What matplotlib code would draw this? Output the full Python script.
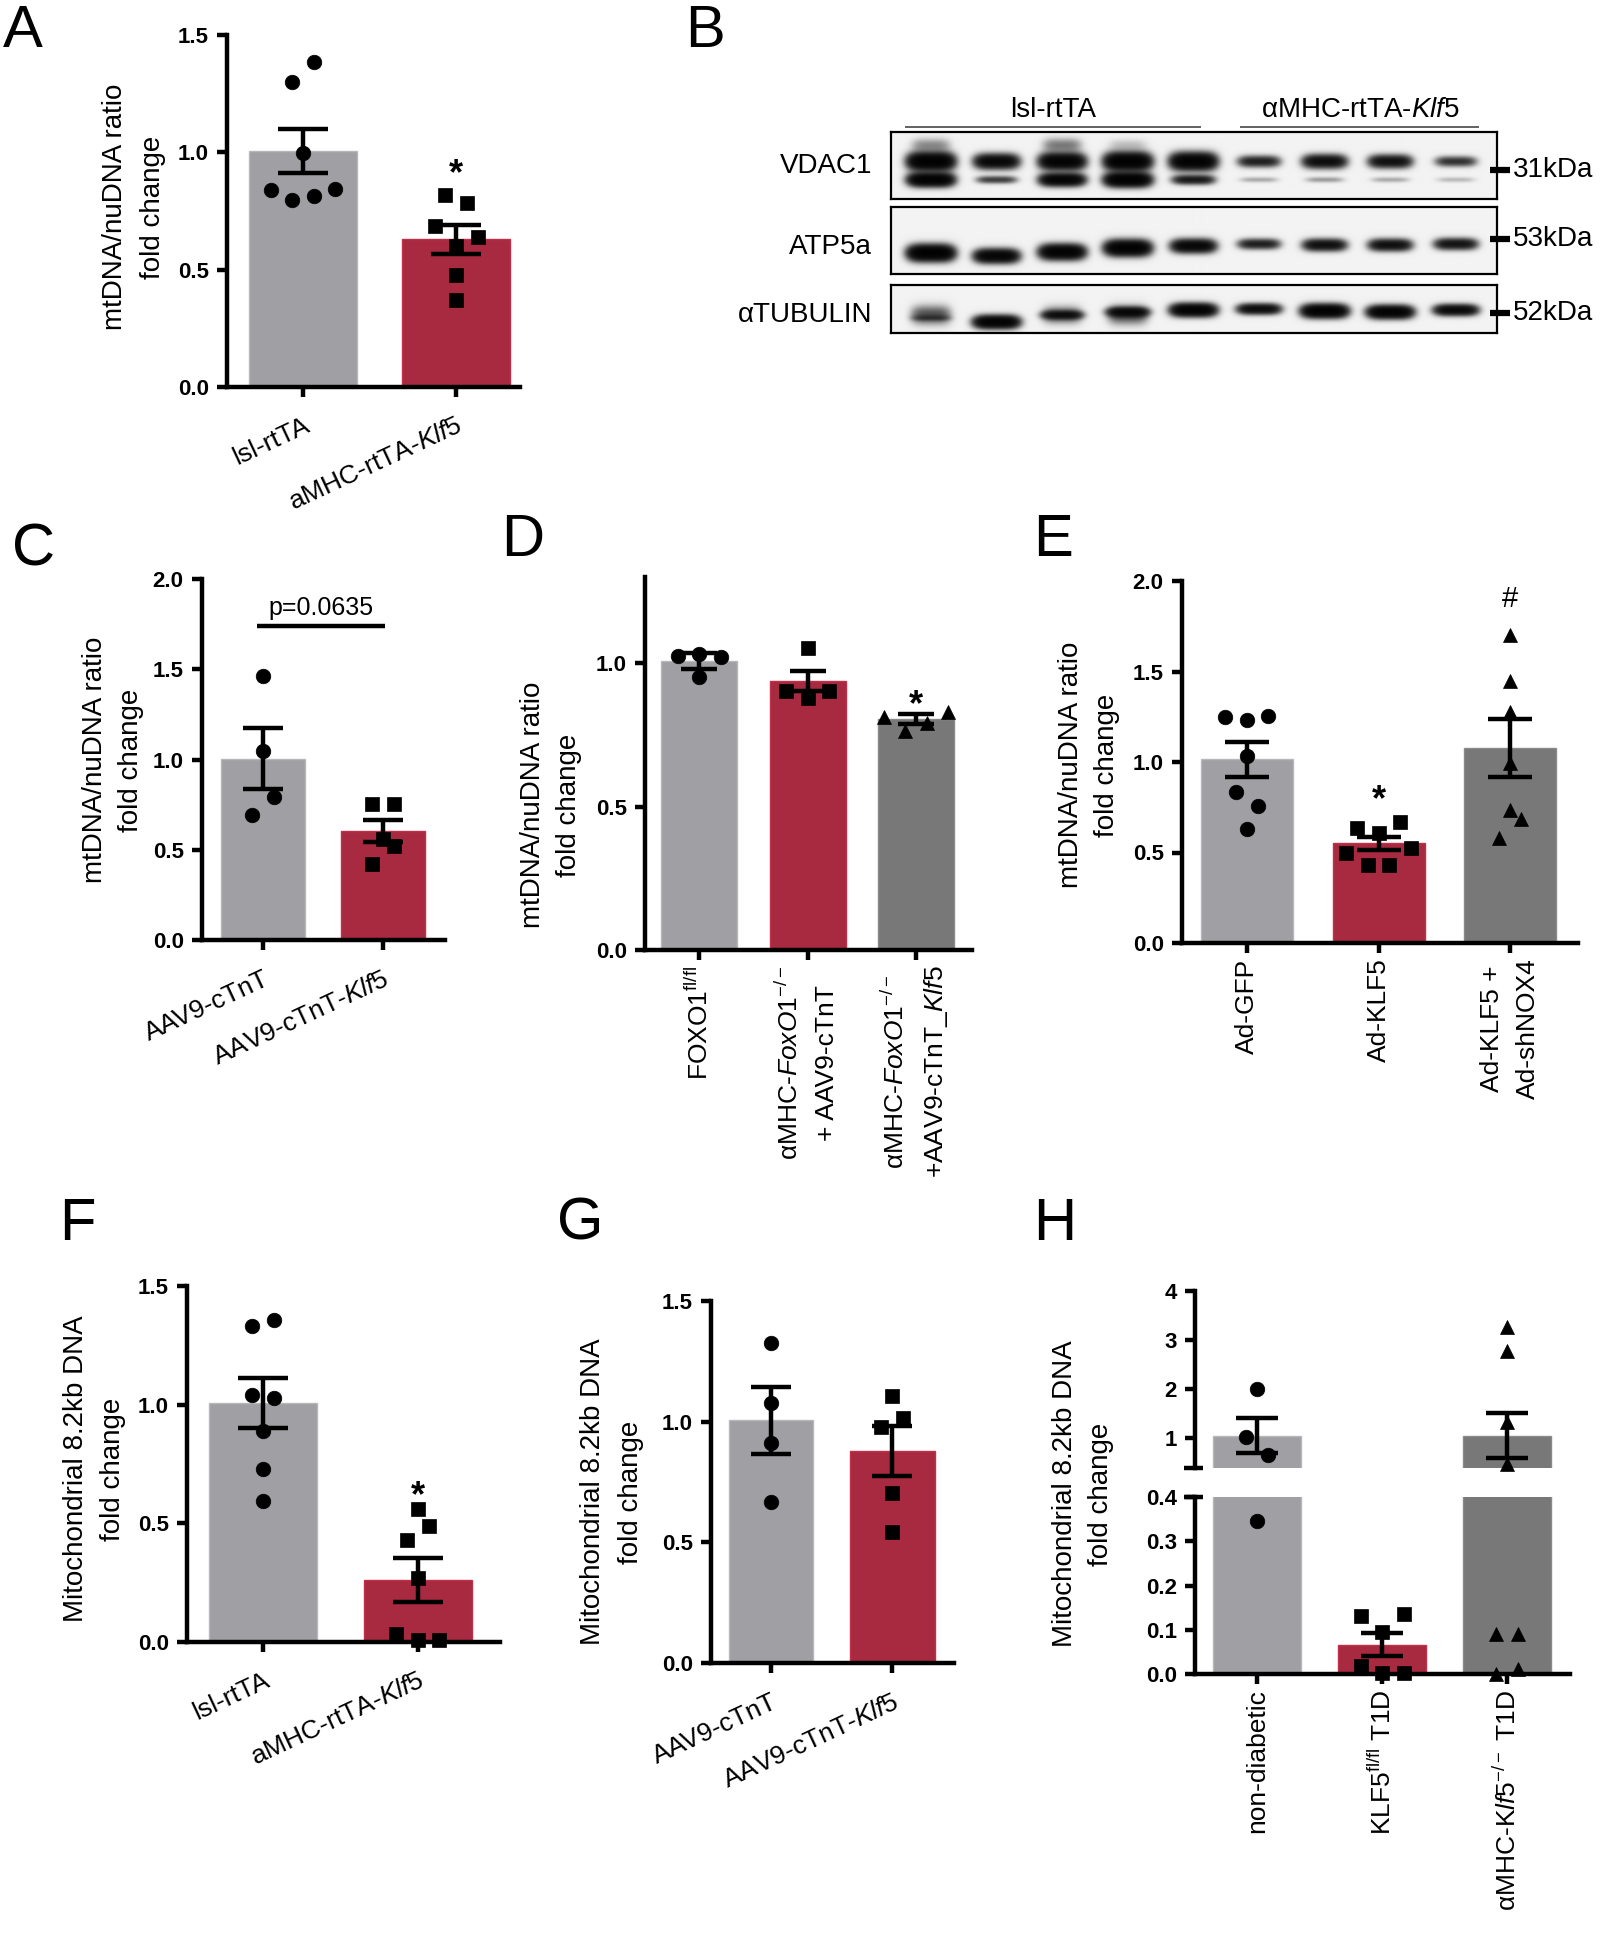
import numpy as np
import matplotlib
matplotlib.use("Agg")
import matplotlib.pyplot as plt
from matplotlib.lines import Line2D

plt.rcParams['font.family'] = ['Liberation Sans', 'DejaVu Sans']
plt.rcParams['mathtext.fontset'] = 'custom'
plt.rcParams['mathtext.rm'] = 'Liberation Sans'
plt.rcParams['mathtext.it'] = 'Liberation Sans:italic'
plt.rcParams['mathtext.bf'] = 'Liberation Sans:bold'

# ---------------- data ----------------
# A  mtDNA/nuDNA, lsl-rtTA vs aMHC-rtTA-Klf5
a_labels = ["lsl-rtTA", r"aMHC-rtTA-$\mathit{Klf5}$"]
a_mean = [1.006, 0.630]
a_sem = [0.092, 0.062]
a_ctrl = [1.301, 1.384, 0.996, 0.840, 0.797, 0.812, 0.844]
a_klf5 = [0.819, 0.783, 0.687, 0.602, 0.641, 0.478, 0.372]
a_sig = ["", "*"]
a_sig_y = [0, 0.95]

# B  western blot (relative band darkness, 9 lanes)
b_groups = ["lsl-rtTA", r"αMHC-rtTA-$\mathit{Klf5}$"]
b_rows = ["VDAC1", "ATP5a", "αTUBULIN"]
b_kda = ["31kDa", "53kDa", "52kDa"]
vdac1_upper = [1.0, 0.75, 0.9, 1.0, 0.95, 0.45, 0.65, 0.6, 0.35]
vdac1_lower = [0.95, 0.3, 0.85, 1.0, 0.5, 0.08, 0.1, 0.08, 0.06]
vdac1_smear = [0.12, 0.0, 0.15, 0.05, 0.0, 0.0, 0.0, 0.0, 0.0]
atp5a_band = [1.0, 0.8, 0.9, 0.95, 0.75, 0.45, 0.6, 0.6, 0.55]
tubulin_band = [0.15, 0.9, 0.45, 0.55, 0.9, 0.65, 0.95, 0.9, 0.7]
tubulin_smear = [0.25, 0.0, 0.2, 0.25, 0.0, 0.0, 0.0, 0.0, 0.0]

# C  mtDNA/nuDNA, AAV9
c_labels = ["AAV9-cTnT", r"AAV9-cTnT-$\mathit{Klf5}$"]
c_mean = [1.005, 0.605]
c_sem = [0.168, 0.062]
c_ctrl = [1.462, 1.047, 0.695, 0.793]
c_klf5 = [0.753, 0.753, 0.558, 0.421, 0.519]
c_p_text = "p=0.0635"
c_p_y = 1.74

# D  mtDNA/nuDNA, FoxO1 knockout
d_labels = [r"FOXO1$^{\mathrm{fl/fl}}$",
            "αMHC-$\\mathit{FoxO1}^{-/-}$\n+ AAV9-cTnT",
            "αMHC-$\\mathit{FoxO1}^{-/-}$\n+AAV9-cTnT_$\\mathit{Klf5}$"]
d_mean = [1.008, 0.937, 0.804]
d_sem = [0.028, 0.035, 0.017]
d_g1 = [1.025, 1.030, 1.022, 0.950]
d_g2 = [0.902, 0.877, 0.902, 1.052]
d_g3 = [0.812, 0.763, 0.791, 0.828]
d_sig = ["", "", "*"]
d_sig_y = [0, 0, 0.886]

# E  mtDNA/nuDNA, adenovirus
e_labels = ["Ad-GFP", "Ad-KLF5", "Ad-KLF5 +\nAd-shNOX4"]
e_mean = [1.014, 0.550, 1.079]
e_sem = [0.097, 0.038, 0.161]
e_g1 = [1.249, 1.234, 1.256, 1.033, 0.835, 0.759, 0.630]
e_g2 = [0.634, 0.609, 0.667, 0.500, 0.431, 0.431, 0.526]
e_g3 = [1.704, 1.450, 1.278, 0.993, 0.734, 0.578, 0.685]
e_sig = ["", "*", "#"]
e_sig_y = [0, 0.846, 1.914]

# F  mitochondrial 8.2kb DNA, lsl-rtTA vs aMHC-rtTA-Klf5
f_labels = a_labels
f_mean = [1.008, 0.263]
f_sem = [0.106, 0.093]
f_ctrl = [1.332, 1.358, 1.042, 1.027, 0.887, 0.730, 0.594]
f_klf5 = [0.562, 0.428, 0.489, 0.270, 0.032, 0.007, 0.007]
f_sig = ["", "*"]
f_sig_y = [0, 0.657]

# G  mitochondrial 8.2kb DNA, AAV9
g_labels = c_labels
g_mean = [1.005, 0.878]
g_sem = [0.139, 0.104]
g_ctrl = [1.326, 1.077, 0.912, 0.667]
g_klf5 = [1.108, 0.979, 1.015, 0.703, 0.541]

# H  mitochondrial 8.2kb DNA, T1D (broken axis)
h_labels = ["non-diabetic", r"KLF5$^{\mathrm{fl/fl}}$ T1D",
            r"αMHC-K$\mathit{lf5}^{-/-}$ T1D"]
h_mean = [1.06, 0.066, 1.06]
h_sem = [0.355, 0.026, 0.457]
h_g1 = [2.007, 1.040, 0.674, 0.345]
h_g2 = [0.1315, 0.095, 0.135, 0.019, 0.002, 0.002]
h_g3 = [3.26, 2.78, 1.336, 0.477, 0.091, 0.091, 0.0, 0.011]

# ---------------- style ----------------
W, H = 1614, 1950
GRAY, RED, DARK = '#a0a0a4', '#a82a40', '#787878'
EDGE = {GRAY: '#b8b8bc', RED: '#c03048', DARK: '#8a8a8a'}
LW = 3.2
BAR_W = 0.70
TICK_FS = 16
LABEL_FS = 20
XT_FS = 19
MS = {'o': 10.5, 's': 9.5, '^': 10.5}
MTNU = "mtDNA/nuDNA ratio\nfold change"
MITO = "Mitochondrial 8.2kb DNA\nfold change"

fig = plt.figure(figsize=(W / 100, H / 100), dpi=100)


def add_ax(box):
    l, t, r, b = box
    return fig.add_axes([l / W, 1 - b / H, (r - l) / W, (b - t) / H])


def fig_line(x0, x1, y0, y1, lw=LW, color='black'):
    fig.add_artist(Line2D([x0 / W, x1 / W], [1 - y0 / H, 1 - y1 / H],
                          lw=lw, color=color, solid_capstyle='butt'))


def swarm_offsets(vals, ppy, row_px=20.5, step_px=21.5):
    """Prism-like layout: points within one row are spread symmetrically."""
    order = sorted(range(len(vals)), key=lambda i: vals[i])
    rows, cur = [], [order[0]]
    for i in order[1:]:
        if (vals[i] - vals[cur[0]]) * ppy < row_px:
            cur.append(i)
        else:
            rows.append(cur)
            cur = [i]
    rows.append(cur)
    off = np.zeros(len(vals))
    for r in rows:
        r = sorted(r)
        for k, i in enumerate(r):
            off[i] = (k - (len(r) - 1) / 2) * step_px
    return off


def style_axes(ax, yticks, ytl, bottom=True):
    ax.spines['top'].set_visible(False)
    ax.spines['right'].set_visible(False)
    ax.spines['left'].set_linewidth(LW)
    ax.spines['bottom'].set_linewidth(LW)
    if not bottom:
        ax.spines['bottom'].set_visible(False)
        ax.tick_params(axis='x', bottom=False, labelbottom=False)
    ax.tick_params(width=LW, length=7.2, direction='out')
    ax.tick_params(axis='y', pad=6)
    ax.set_yticks(yticks)
    ax.set_yticklabels(ytl, fontweight='bold', fontsize=TICK_FS)


def draw_bars(ax, box, xlim, ylim, means, sems, colors):
    ppx = (box[2] - box[0]) / (xlim[1] - xlim[0])
    x = np.arange(len(means))
    ax.bar(x, means, width=BAR_W, color=colors,
           edgecolor=[EDGE[c] for c in colors], linewidth=1.0, zorder=1)
    cap = 0.235 * BAR_W * ppx * 0.72
    ax.errorbar(x, means, yerr=sems, fmt='none', ecolor='black',
                elinewidth=LW, capsize=cap, capthick=LW, zorder=3)
    ax.set_xlim(xlim)
    ax.set_ylim(ylim)
    return ppx


def draw_points(ax, i, vals, marker, ppx, ppy):
    vals = np.asarray(vals, dtype=float)
    off = swarm_offsets(list(vals), ppy) / ppx
    ax.plot(i + off, vals, ls='none', marker=marker, ms=MS[marker],
            color='black', mec='black', mew=0.5, clip_on=False, zorder=4)


def sig_marks(ax, marks, ys, fs=26):
    for i, (m, y) in enumerate(zip(marks, ys)):
        if m:
            dy = -0.55 * fs if m == '*' else -0.36 * 21
            ax.annotate(m, (i, y), xytext=(0, dy), textcoords='offset points',
                        ha='center', va='baseline', fontsize=fs if m == '*' else 21,
                        fontweight='bold' if m == '*' else 'normal')


def slanted_labels(ax, labels):
    ax.set_xticks(range(len(labels)))
    ax.set_xticklabels(labels, rotation=25, ha='right', va='top',
                       rotation_mode='anchor', fontsize=XT_FS)
    ax.tick_params(axis='x', pad=12)


def vertical_labels(ax, labels):
    ax.set_xticks(range(len(labels)))
    ax.set_xticklabels(labels, rotation=90, ha='center', va='top',
                       fontsize=XT_FS, linespacing=1.6)
    ax.tick_params(axis='x', pad=4)


def ylabel(x, y, text):
    fig.text(x / W, 1 - y / H, text, rotation=90, ha='center', va='center',
             fontsize=LABEL_FS, linespacing=1.55)


def panel_letter(x, y, s):
    fig.text(x / W, 1 - y / H, s, fontsize=43, ha='left', va='baseline')


def bar_panel(box, xlim, ylim, yticks, ytl, means, sems, groups, colors, markers):
    ax = add_ax(box)
    ppx = draw_bars(ax, box, xlim, ylim, means, sems, colors)
    ppy = (box[3] - box[1]) / (ylim[1] - ylim[0])
    for i, (vals, m) in enumerate(zip(groups, markers)):
        draw_points(ax, i, vals, m, ppx, ppy)
    style_axes(ax, yticks, ytl)
    return ax


ticks15 = [0, 0.5, 1.0, 1.5]
tl15 = ["0.0", "0.5", "1.0", "1.5"]
ticks20 = [0, 0.5, 1.0, 1.5, 2.0]
tl20 = ["0.0", "0.5", "1.0", "1.5", "2.0"]

# ---------------- A ----------------
box = (227, 35, 520, 387)
ax = bar_panel(box, (-0.497, 1.418), (0, 1.5), ticks15, tl15, a_mean, a_sem,
               [a_ctrl, a_klf5], [GRAY, RED], ['o', 's'])
sig_marks(ax, a_sig, a_sig_y)
slanted_labels(ax, a_labels)
ylabel(134, 207, MTNU)
panel_letter(3, 47, "A")

# ---------------- C ----------------
box = (202, 579, 445, 940)
ax = bar_panel(box, (-0.508, 1.517), (0, 2.0), ticks20, tl20, c_mean, c_sem,
               [c_ctrl, c_klf5], [GRAY, RED], ['o', 's'])
ax.plot([-0.05, 1.02], [c_p_y, c_p_y], color='black', lw=LW,
        solid_capstyle='butt', clip_on=False)
ax.annotate(c_p_text, (0.485, c_p_y), xytext=(0, 4), textcoords='offset points',
            ha='center', va='bottom', fontsize=18)
slanted_labels(ax, c_labels)
ylabel(113, 760, MTNU)
panel_letter(12, 565, "C")

# ---------------- D ----------------
box = (645, 577, 972, 950)
ax = bar_panel(box, (-0.50, 2.516), (0, 1.3), [0, 0.5, 1.0], ["0.0", "0.5", "1.0"],
               d_mean, d_sem, [d_g1, d_g2, d_g3], [GRAY, RED, DARK], ['o', 's', '^'])
sig_marks(ax, d_sig, d_sig_y)
vertical_labels(ax, d_labels)
ylabel(551, 805, MTNU)
panel_letter(501, 556, "D")

# ---------------- E ----------------
box = (1182, 581, 1578, 943)
ax = bar_panel(box, (-0.494, 2.516), (0, 2.0), ticks20, tl20, e_mean, e_sem,
               [e_g1, e_g2, e_g3], [GRAY, RED, DARK], ['o', 's', '^'])
sig_marks(ax, e_sig, e_sig_y)
vertical_labels(ax, e_labels)
ylabel(1089, 765, MTNU)
panel_letter(1033, 556, "E")

# ---------------- F ----------------
box = (187, 1286, 500, 1642)
ax = bar_panel(box, (-0.49, 1.53), (0, 1.5), ticks15, tl15, f_mean, f_sem,
               [f_ctrl, f_klf5], [GRAY, RED], ['o', 's'])
sig_marks(ax, f_sig, f_sig_y)
slanted_labels(ax, f_labels)
ylabel(95, 1469, MITO)
panel_letter(59, 1240, "F")

# ---------------- G ----------------
box = (711, 1301, 954, 1663)
ax = bar_panel(box, (-0.496, 1.51), (0, 1.5), ticks15, tl15, g_mean, g_sem,
               [g_ctrl, g_klf5], [GRAY, RED], ['o', 's'])
slanted_labels(ax, g_labels)
ylabel(612, 1492, MITO)
panel_letter(557, 1240, "G")

# ---------------- H (broken y axis) ----------------
h_xlim = (-0.496, 2.504)
box_up = (1195, 1291, 1570, 1468)
box_lo = (1195, 1497, 1570, 1674)
ax_up = add_ax(box_up)
ax_lo = add_ax(box_lo)
cols = [GRAY, RED, DARK]
marks = ['o', 's', '^']
for axh, bx, yl in [(ax_up, box_up, (0.4, 4.0)), (ax_lo, box_lo, (0.0, 0.4))]:
    ppx = draw_bars(axh, bx, h_xlim, yl, h_mean, h_sem, cols)
    ppy = (bx[3] - bx[1]) / (yl[1] - yl[0])
    for i, (vals, m) in enumerate(zip([h_g1, h_g2, h_g3], marks)):
        v = np.asarray(vals)
        sel = v[(v >= 0.4)] if yl[0] > 0 else v[(v < 0.4)]
        if len(sel):
            draw_points(axh, i, list(sel), m, ppx, ppy)
style_axes(ax_up, [1, 2, 3, 4], ["1", "2", "3", "4"], bottom=False)
style_axes(ax_lo, [0, 0.1, 0.2, 0.3, 0.4], ["0.0", "0.1", "0.2", "0.3", "0.4"])
vertical_labels(ax_lo, h_labels)
fig_line(1184, 1203, 1468, 1468)
fig_line(1184, 1203, 1497, 1497)
ylabel(1083, 1494, MITO)
panel_letter(1033, 1240, "H")

# ---------------- B (western blot) ----------------
panel_letter(685, 47, "B")
BOXES = [(891, 132, 1497, 199), (891, 207, 1497, 274), (891, 285, 1497, 333)]
LANE_X = 40 + 65.5 * np.arange(9)
ATP5A_Y = [46, 49, 45, 41, 39, 37, 38, 38, 37]
TUB_Y = [33, 37, 30, 27, 25, 24, 26, 27, 25]


def bands(h, w, centres, intens, thick, lane_w=44):
    yy, xx = np.mgrid[0:h, 0:w] + 0.5
    d = np.zeros((h, w))
    for xc, yc, a in zip(LANE_X, centres, intens):
        half = lane_w * (0.8 + 0.2 * a) / 2
        gx = np.exp(-np.abs((xx - xc) / half) ** 4)
        gy = np.exp(-((yy - yc) / (thick * (0.35 + 0.65 * a))) ** 2)
        d += 4.5 * a * gx * gy
    return d


imgs = []
l, t, r, b = BOXES[0]
imgs.append(bands(b - t, r - l, [30] * 9, vdac1_upper, 7.5)
            + bands(b - t, r - l, [48] * 9, vdac1_lower, 6)
            + bands(b - t, r - l, [14] * 9, vdac1_smear, 14))
l, t, r, b = BOXES[1]
imgs.append(bands(b - t, r - l, ATP5A_Y, atp5a_band, 7))
l, t, r, b = BOXES[2]
imgs.append(bands(b - t, r - l, TUB_Y, tubulin_band, 6)
            + bands(b - t, r - l, [30] * 9, tubulin_smear, 16))

for bx, d in zip(BOXES, imgs):
    axb = add_ax(bx)
    img = 0.05 + 0.95 * (1 - np.exp(-d))
    axb.imshow(img, cmap='gray_r', vmin=0, vmax=1, aspect='auto',
               interpolation='bilinear', extent=(0, bx[2] - bx[0], bx[3] - bx[1], 0))
    axb.set_xticks([])
    axb.set_yticks([])
    for s in axb.spines.values():
        s.set_linewidth(1.6)

row_y = [166, 247, 315]
kda_y = [170, 239, 313]
for name, y in zip(b_rows, row_y):
    fig.text(872 / W, 1 - y / H, name, fontsize=20, ha='right', va='center')
for k, y in zip(b_kda, kda_y):
    fig_line(1490, 1510, y, y, lw=4.5)
    fig.text(1513 / W, 1 - y / H, k, fontsize=20, ha='left', va='center')
fig_line(905, 1201, 127, 127, lw=1.3, color='#555555')
fig_line(1240, 1479, 127, 127, lw=1.3, color='#555555')
fig.text(1053 / W, 1 - 110 / H, b_groups[0], fontsize=20, ha='center', va='center')
fig.text(1360 / W, 1 - 110 / H, b_groups[1], fontsize=20, ha='center', va='center')

fig.savefig("out.png", dpi=100)
